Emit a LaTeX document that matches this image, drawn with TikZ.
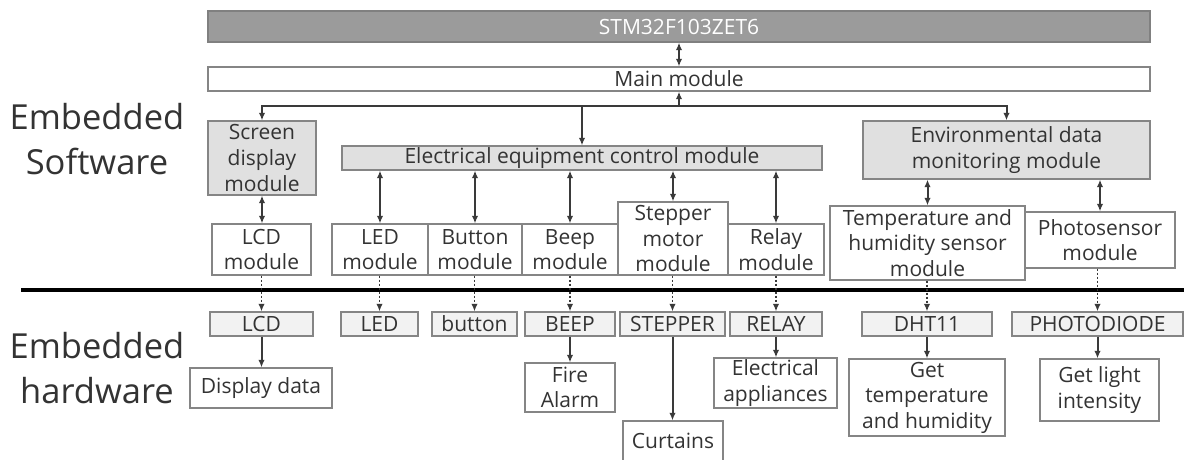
\documentclass[tikz,border=0pt]{standalone}
\usepackage{fontspec}
\setmainfont{Open Sans}
\usetikzlibrary{arrows.meta,calc}
\definecolor{txt}{HTML}{333333}
\definecolor{bord}{HTML}{858585}
\definecolor{darkfill}{HTML}{9B9B9B}
\definecolor{litefill}{HTML}{E0E0E0}
\definecolor{hwfill}{HTML}{F2F2F2}
\definecolor{arrcol}{HTML}{3A3A3A}
\begin{document}
\begin{tikzpicture}[x=1pt,y=-1pt,
  font=\fontsize{21}{25.5}\selectfont,
  box/.style={draw=bord, line width=1.3pt, inner sep=0pt, align=center, text=txt, fill=white},
  gbox/.style={box, fill=litefill},
  hwbox/.style={box, fill=hwfill, minimum height=24pt},
  bigtxt/.style={align=center, text=txt, inner sep=0pt, font=\fontsize{34.5}{45}\selectfont},
  conn/.style={draw=arrcol, line width=2pt, -{Latex[length=7.5pt,width=6.5pt]}},
  bconn/.style={draw=arrcol, line width=2pt, {Latex[length=7.5pt,width=6.5pt]}-{Latex[length=7.5pt,width=6.5pt]}},
  dconn/.style={draw=arrcol, line width=1.8pt, dash pattern=on 2pt off 2pt, -{Latex[length=7.5pt,width=6.5pt]}},
  sep/.style={draw=black, line width=4.5pt}]
\useasboundingbox (0,0) rectangle (1184,459);

% side labels
\node[bigtxt] (swl) at (97,139) {Embedded\\Software};
\node[bigtxt] (hwl) at (97,368) {Embedded\\hardware};

% top
\node[box, fill=darkfill, draw=gray, text=white, minimum width=942pt, minimum height=31pt] (stm) at (679,26.5) {STM32F103ZET6};
\node[box, minimum width=942pt, minimum height=24pt] (main) at (679,79) {Main module};

% software level 1
\node[gbox, minimum width=108pt, minimum height=74pt, font=\fontsize{21}{26}\selectfont] (scr) at (262,158) {Screen\\display\\module};
\node[gbox, minimum width=480pt, minimum height=24pt] (elec) at (582,158) {Electrical equipment control module};
\node[gbox, minimum width=287pt, minimum height=58pt] (env) at (1006.5,150) {Environmental data\\monitoring module};

% software modules
\node[box, minimum width=99pt, minimum height=51pt] (lcdm) at (261.5,249.5) {LCD\\module};
\node[box, minimum width=96pt, minimum height=51pt] (ledm) at (380,249.5) {LED\\module};
\node[box, minimum width=94pt, minimum height=51pt] (btnm) at (475,249.5) {Button\\module};
\node[box, minimum width=96pt, minimum height=51pt] (beepm) at (570,249.5) {Beep\\module};
\node[box, minimum width=110pt, minimum height=73pt] (stepm) at (673,238.5) {Stepper\\motor\\module};
\node[box, minimum width=96pt, minimum height=51pt] (relm) at (776,249.5) {Relay\\module};
\node[box, minimum width=195pt, minimum height=74pt] (tempm) at (927.5,243) {Temperature and\\humidity sensor\\module};
\node[box, minimum width=150pt, minimum height=56pt] (photom) at (1100,240) {Photosensor\\module};

% separator
\coordinate (sepL) at (21,290);
\coordinate (sepR) at (1184,290);
\draw[sep] (sepL) -- (sepR);

% hardware
\node[hwbox, minimum width=103pt] (lcd) at (261.5,324) {LCD};
\node[hwbox, minimum width=77pt] (led) at (379.5,324) {LED};
\node[hwbox, minimum width=85pt] (btn) at (474.5,324) {button};
\node[hwbox, minimum width=90pt] (beep) at (570,324) {BEEP};
\node[hwbox, minimum width=105pt] (step) at (672.5,324) {STEPPER};
\node[hwbox, minimum width=92pt] (rel) at (776,324) {RELAY};
\node[hwbox, minimum width=130pt] (dht) at (927,324) {DHT11};
\node[hwbox, minimum width=171pt] (photo) at (1097.5,324) {PHOTODIODE};

% results
\node[box, minimum width=142pt, minimum height=40pt] (disp) at (261,388) {Display data};
\node[box, minimum width=90pt, minimum height=49pt] (fire) at (570,387.5) {Fire\\Alarm};
\node[box, minimum width=100pt, minimum height=40pt] (curt) at (673,441) {Curtains};
\node[box, minimum width=123pt, minimum height=50pt] (elap) at (775.5,383) {Electrical\\appliances};
\node[box, minimum width=156pt, minimum height=77pt] (gett) at (927,397.5) {Get\\temperature\\and humidity};
\node[box, minimum width=119pt, minimum height=62pt] (getl) at (1099.5,390) {Get light\\intensity};

% connectors: top
\draw[bconn] (stm.south) -- (main.north);
\coordinate (j) at (679,106);
\draw[conn] (j) -- (main.south);
\draw[conn] (j) -| (scr.north);
\draw[conn] (j) -| (env.north);
\draw[conn] (j -| elec.north) -- (elec.north);

% software links
\draw[bconn] (scr.south) -- (scr.south |- lcdm.north);
\foreach \m in {ledm,btnm,beepm,stepm,relm}
  \draw[bconn] (\m.north |- elec.south) -- (\m.north);
\draw[bconn] (tempm.north |- env.south) -- (tempm.north);
\draw[bconn] (photom.north |- env.south) -- (photom.north);

% dotted to hardware
\foreach \a/\b in {lcdm/lcd,ledm/led,btnm/btn,beepm/beep,stepm/step,relm/rel,tempm/dht,photom/photo}
  \draw[dconn] (\b.north |- \a.south) -- (\b.north);

% hardware to results
\foreach \a/\b in {lcd/disp,beep/fire,step/curt,rel/elap,dht/gett,photo/getl}
  \draw[conn] (\a.south) -- (\a.south |- \b.north);
\end{tikzpicture}
\end{document}
